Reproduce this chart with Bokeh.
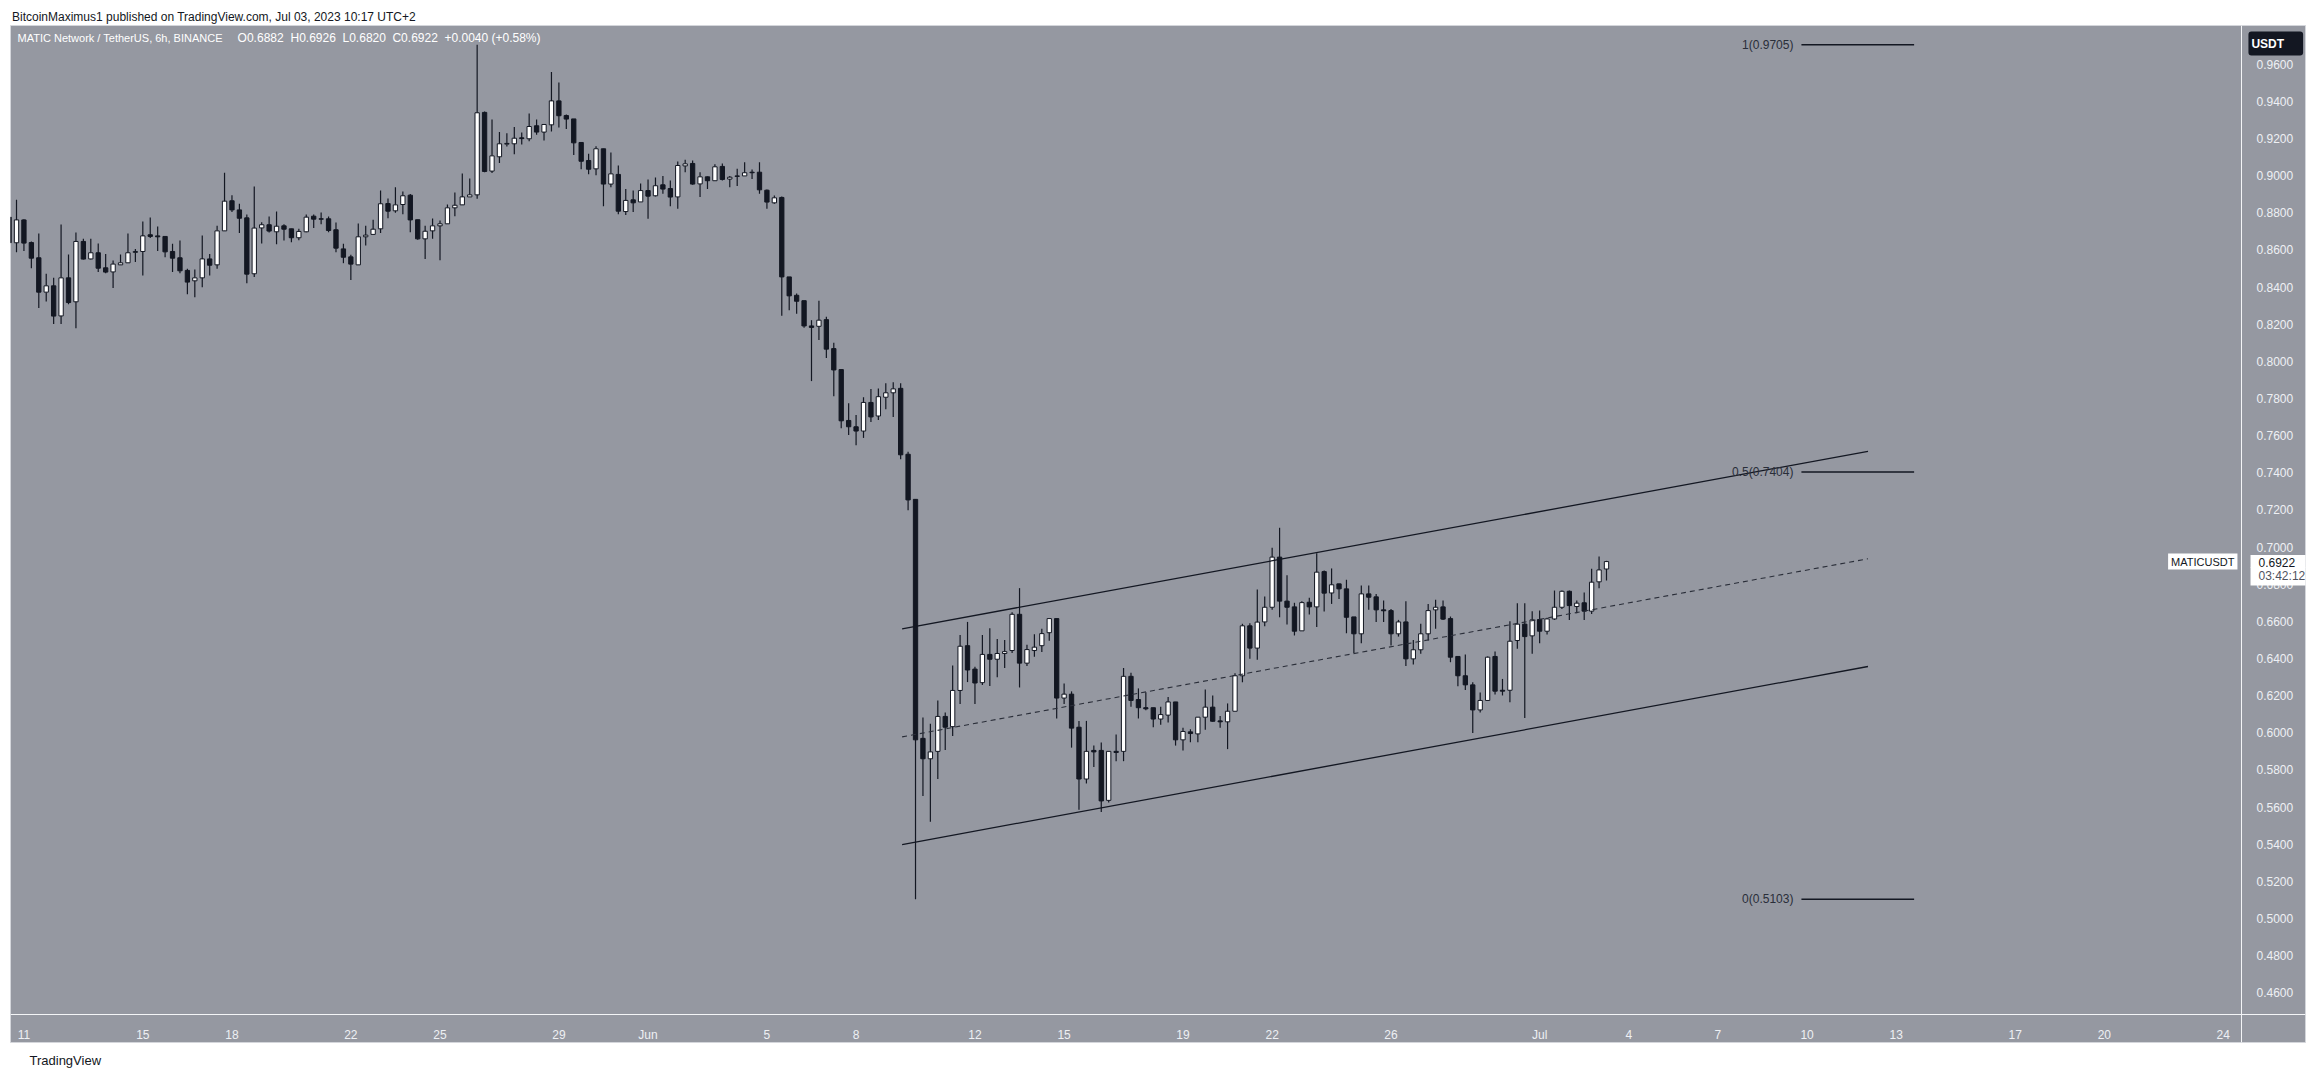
import numpy as np
import pandas as pd
from bokeh.plotting import figure
from bokeh.models import Range1d, FixedTicker, PrintfTickFormatter, Label, Title, ColumnDataSource
from bokeh.core.properties import value
from bokeh.embed import file_html
from bokeh.resources import INLINE

# ---------------- data (MATIC/USDT, 6h candles, Binance) ----------------
first_candle = "2023-05-10 12:00"
axis_origin = "2023-05-11 00:00"

opens = [
    0.8777, 0.8639, 0.8762, 0.8640, 0.8558, 0.8373, 0.8407, 0.8245, 0.8450, 0.8321,
    0.8646, 0.8552, 0.8585, 0.8504, 0.8482, 0.8520, 0.8531, 0.8587, 0.8592, 0.8682,
    0.8676, 0.8673, 0.8592, 0.8558, 0.8490, 0.8434, 0.8450, 0.8552, 0.8520, 0.8703,
    0.8865, 0.8816, 0.8773, 0.8472, 0.8719, 0.8736, 0.8698, 0.8730, 0.8714, 0.8666,
    0.8698, 0.8782, 0.8768, 0.8768, 0.8709, 0.8606, 0.8563, 0.8520, 0.8671, 0.8684,
    0.8714, 0.8850, 0.8811, 0.8845, 0.8895, 0.8763, 0.8660, 0.8703, 0.8730, 0.8741,
    0.8827, 0.8843, 0.8886, 0.8897, 0.9341, 0.9025, 0.9102, 0.9170, 0.9172, 0.9204,
    0.9199, 0.9269, 0.9235, 0.9274, 0.9403, 0.9324, 0.9306, 0.9179, 0.9082, 0.9037,
    0.9145, 0.8955, 0.9007, 0.8807, 0.8870, 0.8859, 0.8920, 0.8892, 0.8951, 0.8931,
    0.8886, 0.9053, 0.9066, 0.8956, 0.8994, 0.8973, 0.9050, 0.8982, 0.8996, 0.8999,
    0.9019, 0.9019, 0.8922, 0.8854, 0.8883, 0.8455, 0.8356, 0.8327, 0.8191, 0.8189,
    0.8225, 0.8069, 0.7956, 0.7682, 0.7648, 0.7625, 0.7779, 0.7706, 0.7807, 0.7831,
    0.7855, 0.7500, 0.7257, 0.5970, 0.5860, 0.5900, 0.6088, 0.6033, 0.6228, 0.6469,
    0.6343, 0.6270, 0.6422, 0.6396, 0.6427, 0.6443, 0.6638, 0.6375, 0.6443, 0.6469,
    0.6539, 0.6615, 0.6187, 0.6208, 0.6030, 0.5751, 0.5905, 0.5905, 0.5636, 0.5900,
    0.5900, 0.6304, 0.6179, 0.6135, 0.6135, 0.6074, 0.6095, 0.6166, 0.5962, 0.6005,
    0.5994, 0.6084, 0.6138, 0.6064, 0.6059, 0.6116, 0.6307, 0.6576, 0.6456, 0.6597,
    0.6676, 0.6946, 0.6709, 0.6678, 0.6549, 0.6703, 0.6678, 0.6868, 0.6753, 0.6802,
    0.6775, 0.6624, 0.6533, 0.6748, 0.6732, 0.6662, 0.6658, 0.6533, 0.6597, 0.6398,
    0.6447, 0.6533, 0.6662, 0.6678, 0.6615, 0.6411, 0.6307, 0.6258, 0.6123, 0.6174,
    0.6411, 0.6229, 0.6229, 0.6497, 0.6585, 0.6522, 0.6610, 0.6547, 0.6613, 0.6676,
    0.6762, 0.6680, 0.6700, 0.6655, 0.6813, 0.6882,
]
highs = [
    0.8800, 0.8870, 0.8766, 0.8646, 0.8689, 0.8472, 0.8450, 0.8737, 0.8576, 0.8694,
    0.8660, 0.8660, 0.8635, 0.8579, 0.8544, 0.8576, 0.8689, 0.8606, 0.8754, 0.8775,
    0.8727, 0.8673, 0.8633, 0.8651, 0.8499, 0.8495, 0.8678, 0.8579, 0.8730, 0.9016,
    0.8895, 0.8849, 0.8791, 0.8942, 0.8750, 0.8780, 0.8807, 0.8739, 0.8714, 0.8714,
    0.8791, 0.8791, 0.8802, 0.8780, 0.8748, 0.8633, 0.8574, 0.8743, 0.8730, 0.8763,
    0.8920, 0.8877, 0.8938, 0.8915, 0.8902, 0.8763, 0.8730, 0.8770, 0.8759, 0.8845,
    0.8910, 0.9012, 0.8985, 0.9705, 0.9346, 0.9303, 0.9236, 0.9229, 0.9262, 0.9233,
    0.9335, 0.9303, 0.9276, 0.9558, 0.9502, 0.9330, 0.9306, 0.9179, 0.9118, 0.9159,
    0.9145, 0.9125, 0.9055, 0.8929, 0.8920, 0.8958, 0.8980, 0.8990, 0.8998, 0.8974,
    0.9077, 0.9086, 0.9082, 0.9019, 0.8996, 0.9062, 0.9066, 0.8998, 0.9037, 0.9073,
    0.9034, 0.9073, 0.8926, 0.8894, 0.8888, 0.8455, 0.8366, 0.8327, 0.8222, 0.8327,
    0.8241, 0.8100, 0.7956, 0.7774, 0.7711, 0.7807, 0.7852, 0.7854, 0.7883, 0.7888,
    0.7883, 0.7513, 0.7257, 0.6082, 0.6048, 0.6174, 0.6109, 0.6362, 0.6526, 0.6597,
    0.6356, 0.6526, 0.6563, 0.6505, 0.6500, 0.6649, 0.6779, 0.6474, 0.6531, 0.6560,
    0.6615, 0.6615, 0.6265, 0.6223, 0.6064, 0.6064, 0.5931, 0.5947, 0.5900, 0.5991,
    0.6349, 0.6323, 0.6239, 0.6218, 0.6135, 0.6140, 0.6192, 0.6166, 0.6027, 0.6019,
    0.6084, 0.6233, 0.6201, 0.6091, 0.6158, 0.6321, 0.6587, 0.6590, 0.6771, 0.6734,
    0.6996, 0.7104, 0.6849, 0.6700, 0.6709, 0.6727, 0.6967, 0.6874, 0.6885, 0.6802,
    0.6824, 0.6624, 0.6793, 0.6793, 0.6748, 0.6712, 0.6666, 0.6608, 0.6709, 0.6500,
    0.6587, 0.6694, 0.6716, 0.6712, 0.6626, 0.6411, 0.6421, 0.6272, 0.6217, 0.6411,
    0.6438, 0.6290, 0.6601, 0.6698, 0.6698, 0.6655, 0.6658, 0.6619, 0.6766, 0.6766,
    0.6766, 0.6712, 0.6755, 0.6883, 0.6949, 0.6926,
]
lows = [
    0.8600, 0.8588, 0.8594, 0.8502, 0.8287, 0.8323, 0.8201, 0.8201, 0.8308, 0.8179,
    0.8549, 0.8549, 0.8481, 0.8475, 0.8395, 0.8520, 0.8531, 0.8535, 0.8463, 0.8664,
    0.8594, 0.8561, 0.8481, 0.8475, 0.8362, 0.8346, 0.8400, 0.8463, 0.8499, 0.8703,
    0.8804, 0.8691, 0.8421, 0.8454, 0.8635, 0.8694, 0.8631, 0.8651, 0.8642, 0.8653,
    0.8696, 0.8718, 0.8739, 0.8696, 0.8588, 0.8529, 0.8438, 0.8520, 0.8624, 0.8684,
    0.8691, 0.8771, 0.8800, 0.8793, 0.8696, 0.8655, 0.8552, 0.8660, 0.8545, 0.8741,
    0.8782, 0.8843, 0.8886, 0.8876, 0.9019, 0.9014, 0.9069, 0.9157, 0.9116, 0.9168,
    0.9186, 0.9220, 0.9190, 0.9238, 0.9260, 0.9251, 0.9111, 0.9035, 0.9008, 0.9003,
    0.8836, 0.8938, 0.8793, 0.8788, 0.8804, 0.8859, 0.8768, 0.8888, 0.8903, 0.8836,
    0.8822, 0.9019, 0.8951, 0.8885, 0.8928, 0.8973, 0.8974, 0.8938, 0.8944, 0.8999,
    0.8983, 0.8903, 0.8822, 0.8849, 0.8246, 0.8275, 0.8256, 0.8181, 0.7894, 0.8115,
    0.8019, 0.7813, 0.7640, 0.7604, 0.7549, 0.7588, 0.7674, 0.7685, 0.7742, 0.7701,
    0.7473, 0.7199, 0.5103, 0.5659, 0.5521, 0.5751, 0.5907, 0.5983, 0.6155, 0.6273,
    0.6155, 0.6257, 0.6252, 0.6299, 0.6349, 0.6429, 0.6244, 0.6359, 0.6409, 0.6435,
    0.6495, 0.6077, 0.6155, 0.5920, 0.5586, 0.5727, 0.5816, 0.5573, 0.5625, 0.5847,
    0.5847, 0.6140, 0.6077, 0.6121, 0.6030, 0.6043, 0.6056, 0.5931, 0.5904, 0.5949,
    0.5949, 0.6016, 0.6059, 0.6027, 0.5912, 0.6116, 0.6272, 0.6398, 0.6393, 0.6574,
    0.6662, 0.6622, 0.6583, 0.6524, 0.6549, 0.6637, 0.6569, 0.6653, 0.6694, 0.6721,
    0.6536, 0.6430, 0.6482, 0.6662, 0.6597, 0.6596, 0.6470, 0.6518, 0.6360, 0.6368,
    0.6425, 0.6497, 0.6560, 0.6608, 0.6380, 0.6251, 0.6231, 0.5999, 0.6109, 0.6172,
    0.6206, 0.6201, 0.6165, 0.6452, 0.6080, 0.6425, 0.6482, 0.6529, 0.6608, 0.6667,
    0.6608, 0.6644, 0.6608, 0.6640, 0.6779, 0.6820,
]
closes = [
    0.8639, 0.8762, 0.8637, 0.8556, 0.8373, 0.8407, 0.8244, 0.8450, 0.8317, 0.8646,
    0.8551, 0.8585, 0.8502, 0.8481, 0.8524, 0.8531, 0.8585, 0.8592, 0.8676, 0.8673,
    0.8671, 0.8590, 0.8556, 0.8488, 0.8427, 0.8450, 0.8552, 0.8518, 0.8703, 0.8863,
    0.8816, 0.8771, 0.8470, 0.8718, 0.8736, 0.8702, 0.8728, 0.8712, 0.8666, 0.8700,
    0.8777, 0.8766, 0.8766, 0.8705, 0.8610, 0.8561, 0.8524, 0.8671, 0.8680, 0.8712,
    0.8849, 0.8809, 0.8843, 0.8892, 0.8762, 0.8660, 0.8701, 0.8730, 0.8741, 0.8827,
    0.8841, 0.8886, 0.8897, 0.9339, 0.9023, 0.9107, 0.9172, 0.9174, 0.9202, 0.9200,
    0.9265, 0.9235, 0.9276, 0.9403, 0.9323, 0.9305, 0.9177, 0.9078, 0.9035, 0.9145,
    0.8955, 0.9010, 0.8809, 0.8867, 0.8854, 0.8920, 0.8890, 0.8946, 0.8928, 0.8885,
    0.9055, 0.9064, 0.8955, 0.8994, 0.8973, 0.9048, 0.8980, 0.8992, 0.8999, 0.9016,
    0.9016, 0.8924, 0.8858, 0.8881, 0.8455, 0.8353, 0.8324, 0.8191, 0.8183, 0.8222,
    0.8066, 0.7954, 0.7680, 0.7648, 0.7625, 0.7779, 0.7701, 0.7810, 0.7831, 0.7852,
    0.7497, 0.7254, 0.5962, 0.5860, 0.5897, 0.6088, 0.6030, 0.6228, 0.6466, 0.6338,
    0.6268, 0.6422, 0.6396, 0.6427, 0.6437, 0.6638, 0.6375, 0.6448, 0.6461, 0.6534,
    0.6615, 0.6187, 0.6208, 0.6025, 0.5751, 0.5900, 0.5897, 0.5633, 0.5900, 0.5894,
    0.6304, 0.6174, 0.6135, 0.6129, 0.6074, 0.6098, 0.6166, 0.5962, 0.6007, 0.5996,
    0.6084, 0.6138, 0.6062, 0.6059, 0.6116, 0.6307, 0.6576, 0.6456, 0.6596, 0.6676,
    0.6946, 0.6709, 0.6676, 0.6547, 0.6701, 0.6678, 0.6865, 0.6752, 0.6797, 0.6775,
    0.6622, 0.6533, 0.6748, 0.6730, 0.6662, 0.6657, 0.6533, 0.6597, 0.6398, 0.6447,
    0.6533, 0.6658, 0.6676, 0.6612, 0.6407, 0.6307, 0.6258, 0.6123, 0.6174, 0.6407,
    0.6224, 0.6224, 0.6493, 0.6585, 0.6518, 0.6608, 0.6547, 0.6613, 0.6676, 0.6762,
    0.6685, 0.6698, 0.6655, 0.6811, 0.6877, 0.6922,
]

# x-axis tick dates and their labels
tick_dates = ["2023-05-11", "2023-05-15", "2023-05-18", "2023-05-22", "2023-05-25",
              "2023-05-29", "2023-06-01", "2023-06-05", "2023-06-08", "2023-06-12",
              "2023-06-15", "2023-06-19", "2023-06-22", "2023-06-26", "2023-07-01",
              "2023-07-04", "2023-07-07", "2023-07-10", "2023-07-13", "2023-07-17",
              "2023-07-20", "2023-07-24"]
tick_labels = ["11", "15", "18", "22", "25", "29", "Jun", "5", "8", "12", "15", "19",
               "22", "26", "Jul", "4", "7", "10", "13", "17", "20", "24"]
price_ticks = [0.46, 0.48, 0.50, 0.52, 0.54, 0.56, 0.58, 0.60, 0.62, 0.64, 0.66, 0.68,
               0.70, 0.72, 0.74, 0.76, 0.78, 0.80, 0.82, 0.84, 0.86, 0.88, 0.90, 0.92,
               0.94, 0.96]

# ascending channel drawn on the chart
channel_dates = ["2023-06-09 13:10", "2023-07-12 01:10"]
channel_upper = [0.6560, 0.7516]
channel_mid = [0.5978, 0.6937]
channel_lower = [0.5398, 0.6357]

# Fibonacci retracement
fib_dates = ["2023-07-09 19:25", "2023-07-13 14:25"]
fib_levels = ["1", "0.5", "0"]
fib_prices = [0.9705, 0.7404, 0.5103]

# legend / status values
symbol_title = "MATIC Network / TetherUS, 6h, BINANCE"
ohlc_text = ["O0.6882", "H0.6926", "L0.6820", "C0.6922", "+0.0040 (+0.58%)"]
last_price = "0.6922"
countdown = "03:42:12"
header_text = "BitcoinMaximus1 published on TradingView.com, Jul 03, 2023 10:17 UTC+2"
footer_text = "TradingView"

# ---------------- styling ----------------
BG = "#9598a1"
INK = "#131722"
AXT = "#eef0f4"
FONT = "Liberation Sans"

origin = pd.Timestamp(axis_origin)
day = pd.Timedelta(days=1)


def to_days(s):
    return (pd.Timestamp(s) - origin) / day


n = min(len(opens), len(highs), len(lows), len(closes))
times = pd.date_range(first_candle, periods=n, freq="6h")
xd = ((times - origin) / day).to_numpy(dtype=float)
o = np.array(opens[:n]); h = np.array(highs[:n]); l = np.array(lows[:n]); c = np.array(closes[:n])
up = c >= o
src = ColumnDataSource(dict(
    x=xd, high=h, low=l,
    top=np.maximum(o, c), bottom=np.minimum(o, c),
    fill=np.where(up, "#ffffff", INK),
))

p = figure(width=2307, height=1075,
           x_range=Range1d(-0.452, 76.77), y_range=Range1d(0.4332, 0.9809),
           output_backend="svg", toolbar_location=None,
           y_axis_location="right",
           min_border_left=10, min_border_right=2, min_border_top=25, min_border_bottom=33,
           background_fill_color=BG, border_fill_color="#ffffff",
           outline_line_color="#d4d6db", outline_line_width=1)
p.grid.visible = False

# header / footer titles
p.title.text = header_text
p.title.text_font = FONT
p.title.text_font_size = "12px"
p.title.text_font_style = "normal"
p.title.text_color = INK
p.title.align = "left"
p.title.offset = 1.5
p.title.standoff = 3
p.title.vertical_align = "bottom"
p.add_layout(Title(text=footer_text, text_font=FONT, text_font_size="13px",
                   text_font_style="normal", text_color=INK, align="left",
                   offset=19, standoff=16, vertical_align="bottom"), "below")

# candles
p.segment(x0="x", y0="low", x1="x", y1="high", source=src, line_color=INK, line_width=1.2)
p.vbar(x="x", width=0.145, top="top", bottom="bottom", source=src,
       fill_color="fill", line_color=INK, line_width=1)

# channel
cx = [to_days(d) for d in channel_dates]
p.line(cx, channel_upper, line_color=INK, line_width=1.3)
p.line(cx, channel_lower, line_color=INK, line_width=1.3)
p.line(cx, channel_mid, line_color="#2a2e39", line_width=1.1, line_dash="5 4")

# fib levels
fx0, fx1 = [to_days(d) for d in fib_dates]
p.segment(x0=[fx0] * len(fib_prices), y0=fib_prices, x1=[fx1] * len(fib_prices), y1=fib_prices,
          line_color=INK, line_width=1.5)
fib_text = [f"{lv}({pr:.4f})" for lv, pr in zip(fib_levels, fib_prices)]
p.text(x=[fx0 - 0.27] * len(fib_prices), y=fib_prices, text=fib_text,
       text_align="right", text_baseline="middle", text_font=value(FONT),
       text_font_size="12px", text_color="#2a2e39")

# axes drawn at the edges of the price pane
xticks = [int(round(to_days(d))) for d in tick_dates]
p.xaxis.ticker = FixedTicker(ticks=xticks)
p.xaxis.major_label_overrides = {t: lab for t, lab in zip(xticks, tick_labels)}
p.yaxis.ticker = FixedTicker(ticks=price_ticks)
p.yaxis.formatter = PrintfTickFormatter(format="%.4f")
p.xaxis.fixed_location = 0.4483
p.yaxis.fixed_location = 74.615
for ax in (p.xaxis, p.yaxis):
    ax.axis_line_color = "#f4f5f7"
    ax.axis_line_width = 1
    ax.major_tick_line_color = None
    ax.minor_tick_line_color = None
    ax.major_label_text_color = AXT
    ax.major_label_text_font = FONT
    ax.major_label_text_font_size = "12px"
p.xaxis.major_label_standoff = 8
p.yaxis.major_label_standoff = 9


def mk_label(**kw):
    pad = kw.pop("padding", None)
    rad = kw.pop("border_radius", None)
    lab = Label(**kw)
    if pad is not None:
        try:
            lab.padding = pad
        except Exception:
            pass
    if rad is not None:
        try:
            lab.border_radius = rad
        except Exception:
            pass
    p.add_layout(lab)
    return lab


# legend line (top-left)
legend_y = 0.9742
mk_label(x=-0.216, y=legend_y, text=symbol_title, text_color="#ffffff", text_font=FONT,
         text_font_size="11px", text_baseline="middle")
for xs, t in zip([7.19, 8.97, 10.72, 12.40, 14.15], ohlc_text):
    mk_label(x=xs, y=legend_y, text=t, text_color="#ffffff", text_font=FONT,
             text_font_size="12px", text_baseline="middle")

# price scale decorations
mk_label(x=74.85, y=0.9712, text="USDT", text_color="#ffffff", text_font=FONT,
         text_font_size="12px", text_font_style="bold", text_baseline="middle",
         background_fill_color=INK, padding=dict(left=3, right=19, top=5, bottom=5),
         border_radius=3)
mk_label(x=74.48, y=float(last_price), text="MATICUSDT", text_color=INK, text_font=FONT,
         text_font_size="11px", text_align="right", text_baseline="middle",
         background_fill_color="#ffffff", padding=dict(left=3, right=3, top=2, bottom=2))
mk_label(x=74.92, y=float(last_price), text=last_price, text_color=INK, text_font=FONT,
         text_font_size="12px", text_baseline="middle",
         background_fill_color="#ffffff", padding=dict(left=8, right=18, top=3, bottom=1))
mk_label(x=74.92, y=float(last_price) - 0.0081, text=countdown, text_color="#50535e",
         text_font=FONT, text_font_size="12px", text_baseline="middle",
         background_fill_color="#ffffff", padding=dict(left=8, right=9, top=1, bottom=3))

open("out.html", "w").write(file_html(p, INLINE))
